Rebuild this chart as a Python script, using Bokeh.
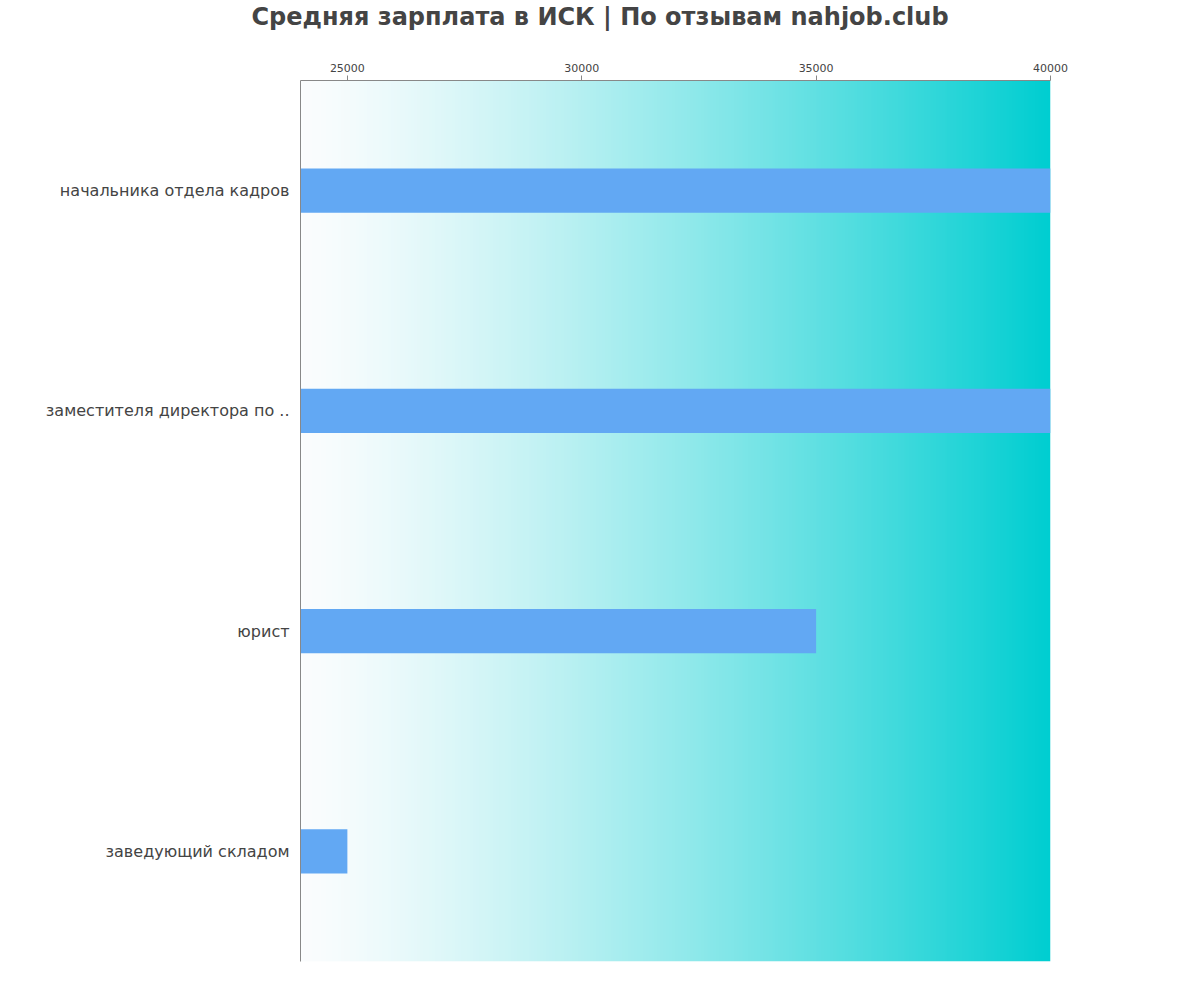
import numpy as np
from bokeh.plotting import figure
from bokeh.models import Range1d, FixedTicker, Title
from bokeh.embed import file_html
from bokeh.resources import INLINE

# ---- data ----
title_text = "Средняя зарплата в ИСК | По отзывам nahjob.club"
categories = ["начальника отдела кадров", "заместителя директора по ..", "юрист", "заведующий складом"]
salaries = [40000, 40000, 35000, 25000]
x_ticks = [25000, 30000, 35000, 40000]
x_min, x_max = 24000, 40000

n = len(categories)
y_pos = [n - i - 0.5 for i in range(n)]

p = figure(width=1192, height=990, output_backend="svg", toolbar_location=None,
           x_range=Range1d(x_min, x_max), y_range=Range1d(0, n),
           x_axis_location="above", min_border_left=300, min_border_right=142,
           min_border_bottom=29, min_border_top=0)
p.title = None

# gradient background
N = 256
t = np.linspace(0, 1, N) ** 1.3
c0 = np.array([251, 253, 254])
c1 = np.array([0, 206, 209])
img = np.empty((1, N), dtype=np.uint32)
view = img.view(dtype=np.uint8).reshape((1, N, 4))
for k in range(3):
    view[0, :, k] = (c0[k] * (1 - t) + c1[k] * t).astype(np.uint8)
view[0, :, 3] = 255
p.image_rgba(image=[img], x=x_min, y=0, dw=x_max - x_min, dh=n)

p.hbar(y=y_pos, right=salaries, left=x_min, height=0.2, color="#62A8F3", line_color=None)

# axes
xa = p.xaxis[0]
xa.ticker = FixedTicker(ticks=x_ticks)
xa.minor_tick_line_color = None
xa.major_tick_out = 5
xa.major_tick_in = 0
xa.axis_line_color = "#888888"
xa.major_tick_line_color = "#888888"
xa.major_label_text_font = "DejaVu Sans"
xa.major_label_text_font_size = "11px"
xa.major_label_text_color = "#444444"
xa.major_label_standoff = 4
xa.axis_label = " "
xa.axis_label_text_font_size = "11px"
xa.axis_label_standoff = 15

ya = p.yaxis[0]
ya.ticker = FixedTicker(ticks=y_pos)
ya.major_label_overrides = {y: c for y, c in zip(y_pos, categories)}
ya.minor_tick_line_color = None
ya.major_tick_line_color = None
ya.major_tick_out = 0
ya.axis_line_color = "#888888"
ya.major_label_text_font = "DejaVu Sans"
ya.major_label_text_font_size = "16px"
ya.major_label_text_color = "#444444"
ya.major_label_standoff = 11

p.xgrid.grid_line_color = None
p.ygrid.grid_line_color = None
p.outline_line_color = None

p.add_layout(Title(text=title_text,
                   text_font="DejaVu Sans", text_font_size="24px", text_font_style="bold",
                   text_color="#444444", align="left", offset=-49, standoff=0), "above")

open("out.html", "w").write(file_html(p, INLINE))
